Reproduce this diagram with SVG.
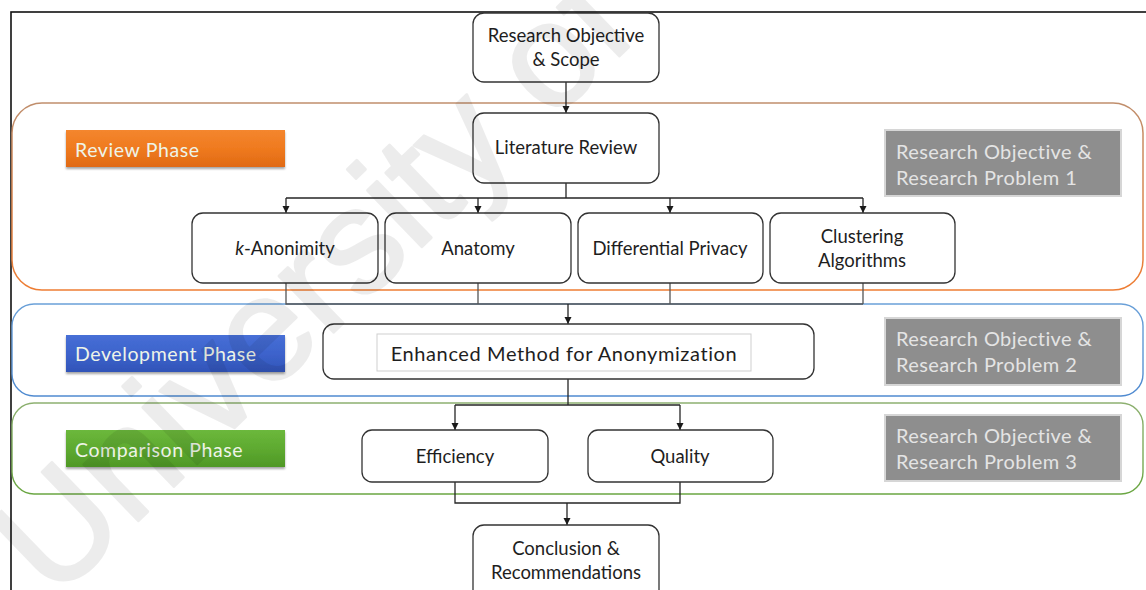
<svg xmlns="http://www.w3.org/2000/svg" width="1146" height="590" viewBox="0 0 1146 590">
  <style>
    .node { fill: #ffffff; stroke: #333333; stroke-width: 1.3; }
    .lbl { font-family: Lato, "Open Sans", "Liberation Sans", sans-serif; font-size: 18.5px; fill: #1e1e1e; text-anchor: middle; }
    .lbl-big { font-size: 20px; letter-spacing: 0.6px; }
    .phase { font-family: Lato, "Open Sans", "Liberation Sans", sans-serif; font-size: 19.5px; letter-spacing: 0.6px; fill: #eef4e8; }
    .obj { font-family: Lato, "Open Sans", "Liberation Sans", sans-serif; font-size: 20px; letter-spacing: 0.4px; fill: #e4e4e4; }
    .objbox { fill: #8e8e8e; stroke: #d6d6d6; stroke-width: 2; }
    .wire { fill: none; stroke: #262626; stroke-width: 1.3; }
    .wire2 { fill: none; stroke: #555555; stroke-width: 1.3; }
  </style>
  <defs>
    <marker id="arrow" markerWidth="8" markerHeight="8" refX="7" refY="4" orient="auto" markerUnits="userSpaceOnUse">
      <path d="M0,0.5 L7,4 L0,7.5 Z" fill="#1a1a1a"/>
    </marker>
    <linearGradient id="gReviewBand" x1="0" y1="0" x2="0" y2="1">
      <stop offset="0" stop-color="#c08e6c"/>
      <stop offset="1" stop-color="#ee7d33"/>
    </linearGradient>
    <linearGradient id="gDevBand" x1="0" y1="0" x2="0" y2="1">
      <stop offset="0" stop-color="#6aa0d8"/>
      <stop offset="1" stop-color="#4f8ad0"/>
    </linearGradient>
    <linearGradient id="gCmpBand" x1="0" y1="0" x2="0" y2="1">
      <stop offset="0" stop-color="#8db070"/>
      <stop offset="1" stop-color="#6aa642"/>
    </linearGradient>
    <linearGradient id="gOrange" x1="0" y1="0" x2="0" y2="1">
      <stop offset="0" stop-color="#f4862e"/>
      <stop offset="0.5" stop-color="#ef7a1f"/>
      <stop offset="1" stop-color="#e06a14"/>
    </linearGradient>
    <linearGradient id="gBlue" x1="0" y1="0" x2="0" y2="1">
      <stop offset="0" stop-color="#476fd6"/>
      <stop offset="0.5" stop-color="#3d63cc"/>
      <stop offset="1" stop-color="#3154b8"/>
    </linearGradient>
    <linearGradient id="gGreen" x1="0" y1="0" x2="0" y2="1">
      <stop offset="0" stop-color="#6cb83c"/>
      <stop offset="0.5" stop-color="#5eaa30"/>
      <stop offset="1" stop-color="#4f9826"/>
    </linearGradient>
    <filter id="shadow" x="-5%" y="-20%" width="110%" height="150%">
      <feDropShadow dx="0" dy="2" stdDeviation="1.2" flood-color="#000" flood-opacity="0.35"/>
    </filter>
  </defs>

  <rect width="1146" height="590" fill="#ffffff"/>
  <!-- page frame -->
  <rect x="11" y="12" width="1160" height="600" fill="none" stroke="#111111" stroke-width="1.6"/>

  <!-- phase bands -->
  <g id="band-review">
    <rect x="12" y="103" width="1131" height="187" rx="30" ry="30" fill="none" stroke="url(#gReviewBand)" stroke-width="1.5"/>
  </g>
  <g id="band-development">
    <rect x="12" y="304" width="1131" height="92" rx="22" ry="22" fill="none" stroke="url(#gDevBand)" stroke-width="1.4"/>
  </g>
  <g id="band-comparison">
    <rect x="12" y="403" width="1131" height="91" rx="22" ry="22" fill="none" stroke="url(#gCmpBand)" stroke-width="1.4"/>
  </g>

  <!-- phase labels -->
  <g id="label-review">
    <rect x="66" y="130" width="219" height="37" fill="url(#gOrange)" filter="url(#shadow)"/>
    <text class="phase" x="75" y="157">Review Phase</text>
  </g>
  <g id="label-development">
    <rect x="66" y="335" width="219" height="37" fill="url(#gBlue)" filter="url(#shadow)"/>
    <text class="phase" x="75" y="361">Development Phase</text>
  </g>
  <g id="label-comparison">
    <rect x="66" y="430" width="219" height="37" fill="url(#gGreen)" filter="url(#shadow)"/>
    <text class="phase" x="75" y="457">Comparison Phase</text>
  </g>

  <!-- objective boxes -->
  <g id="objective-1">
    <rect class="objbox" x="885" y="130" width="236" height="66"/>
    <text class="obj" x="896" y="159">Research Objective &amp;</text>
    <text class="obj" x="896" y="185">Research Problem  1</text>
  </g>
  <g id="objective-2">
    <rect class="objbox" x="885" y="318" width="236" height="67"/>
    <text class="obj" x="896" y="346">Research Objective &amp;</text>
    <text class="obj" x="896" y="372">Research Problem  2</text>
  </g>
  <g id="objective-3">
    <rect class="objbox" x="885" y="415" width="236" height="66"/>
    <text class="obj" x="896" y="443">Research Objective &amp;</text>
    <text class="obj" x="896" y="469">Research Problem  3</text>
  </g>

  <!-- connectors -->
  <g id="connectors">
    <path class="wire" d="M566,82 V113" marker-end="url(#arrow)"/>
    <path class="wire" d="M566,183 V198 M286,198 H863"/>
    <path class="wire" d="M286,198 V213" marker-end="url(#arrow)"/>
    <path class="wire" d="M478,198 V213" marker-end="url(#arrow)"/>
    <path class="wire" d="M670,198 V213" marker-end="url(#arrow)"/>
    <path class="wire" d="M863,198 V213" marker-end="url(#arrow)"/>
    <path class="wire2" d="M286,283 V304 H863 M478,283 V304 M670,283 V304 M863,283 V304"/>
    <path class="wire" d="M568,304 V324" marker-end="url(#arrow)"/>
    <path class="wire" d="M568,379 V405 M455,405 H680"/>
    <path class="wire" d="M455,405 V430" marker-end="url(#arrow)"/>
    <path class="wire" d="M680,405 V430" marker-end="url(#arrow)"/>
    <path class="wire" d="M455,482 V503 H680 V482"/>
    <path class="wire" d="M567,503 V525" marker-end="url(#arrow)"/>
  </g>

  <!-- nodes -->
  <g id="research-objective">
    <rect class="node" x="473" y="13" width="186" height="69" rx="11"/>
    <text class="lbl" x="566" y="42">Research Objective</text>
    <text class="lbl" x="566" y="66">&amp; Scope</text>
  </g>
  <g id="literature-review">
    <rect class="node" x="473" y="113" width="186" height="70" rx="11"/>
    <text class="lbl" x="566" y="154">Literature Review</text>
  </g>
  <g id="k-anonimity">
    <rect class="node" x="192" y="213" width="186" height="70" rx="11"/>
    <text class="lbl" x="285" y="255"><tspan font-style="italic">k</tspan>-Anonimity</text>
  </g>
  <g id="anatomy">
    <rect class="node" x="385" y="213" width="186" height="70" rx="11"/>
    <text class="lbl" x="478" y="255">Anatomy</text>
  </g>
  <g id="differential-privacy">
    <rect class="node" x="578" y="213" width="185" height="70" rx="11"/>
    <text class="lbl" x="670" y="255">Differential Privacy</text>
  </g>
  <g id="clustering-algorithms">
    <rect class="node" x="770" y="213" width="185" height="70" rx="11"/>
    <text class="lbl" x="862" y="243">Clustering</text>
    <text class="lbl" x="862" y="267">Algorithms</text>
  </g>
  <g id="enhanced-method">
    <rect class="node" x="323" y="324" width="491" height="55" rx="11"/>
    <rect x="377" y="334" width="374" height="37" fill="#ffffff" stroke="#cfcfcf" stroke-width="1"/>
    <text class="lbl lbl-big" x="564" y="361">Enhanced Method for Anonymization</text>
  </g>
  <g id="efficiency">
    <rect class="node" x="362" y="430" width="186" height="52" rx="10"/>
    <text class="lbl" x="455" y="463">Efficiency</text>
  </g>
  <g id="quality">
    <rect class="node" x="588" y="430" width="185" height="52" rx="10"/>
    <text class="lbl" x="680" y="463">Quality</text>
  </g>
  <g id="conclusion">
    <rect class="node" x="473" y="525" width="186" height="80" rx="11"/>
    <text class="lbl" x="566" y="555">Conclusion &amp;</text>
    <text class="lbl" x="566" y="579">Recommendations</text>
  </g>

  <!-- faint diagonal watermark -->
  <g opacity="0.07">
    <text x="54" y="602" transform="rotate(-44 54 602)" font-family="Liberation Sans, Arial, sans-serif" font-size="148" fill="#000000" stroke="#000000" stroke-width="3" stroke-linejoin="round">University of</text>
  </g>
</svg>
